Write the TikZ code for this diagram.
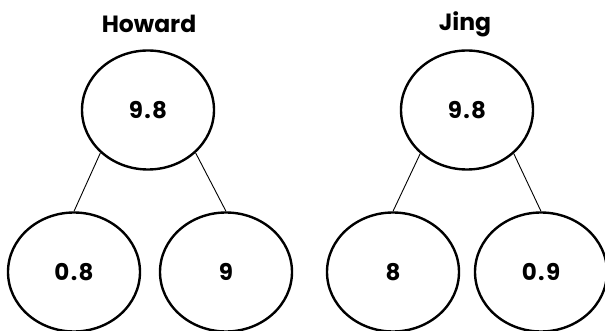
\documentclass[tikz,border=0pt]{standalone}
\usepackage{fontspec}
\setmainfont{Poppins}
\newfontfamily\numfont[LetterSpace=6]{Poppins}
\usetikzlibrary{shapes.geometric}
\begin{document}
\begin{tikzpicture}[x=1pt,y=-1pt,
  bubble/.style={ellipse,draw,line width=2.4pt,minimum width=132pt,minimum height=119pt,inner sep=0pt,
    font=\numfont\fontsize{23}{23}\selectfont\bfseries},
  title/.style={font=\fontsize{23.5}{24}\selectfont\bfseries},
  link/.style={line width=0.9pt}]
\useasboundingbox (0,0) rectangle (605,331);
% Howard
\node[title] (hname) at (149,24) {Howard};
\node[bubble] (htop) at (148,110) {9.8};
\node[bubble] (hl) at (74,272) {0.8};
\node[bubble] (hr) at (226,272) {9};
\draw[link] (htop.-138) -- (hl.north);
\draw[link] (htop.-42) -- (hr.north);
% Jing
\node[title] (jname) at (465,24) {Jing};
\node[bubble] (jtop) at (467,110) {9.8};
\node[bubble] (jl) at (393,272) {8};
\node[bubble] (jr) at (541,272) {0.9};
\draw[link] (jtop.-137) -- (jl.north);
\draw[link] (jtop.-43) -- (jr.north);
\end{tikzpicture}
\end{document}
